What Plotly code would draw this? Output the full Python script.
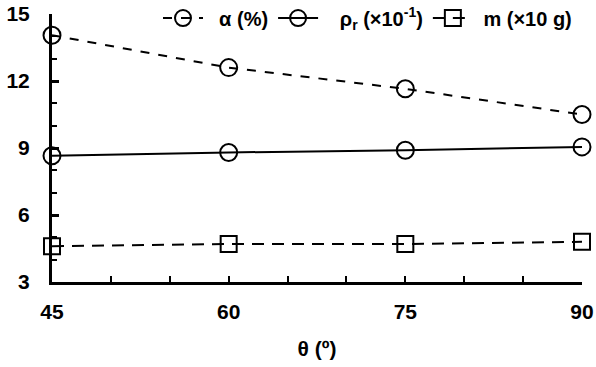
import plotly.graph_objects as go

theta = [45, 60, 75, 90]
alpha = [14.05, 12.6, 11.65, 10.5]
rho = [8.65, 8.8, 8.9, 9.05]
mass = [4.6, 4.7, 4.7, 4.8]
x_ticks = [45, 60, 75, 90]
y_ticks = [3, 6, 9, 12, 15]
names = ["\u00a0\u00a0α (%)", "\u00a0\u00a0\u00a0ρ<sub>r</sub> (×10<sup>-1</sup>)", "\u00a0m (×10 g)"]

FONT = "Liberation Sans"

fig = go.Figure()
fig.add_trace(go.Scatter(x=theta, y=alpha, name=names[0], mode="lines+markers",
                         line=dict(color="black", width=2, dash="dash"),
                         marker=dict(symbol="circle-open", size=17, color="black", line=dict(width=2)),
                         cliponaxis=False))
fig.add_trace(go.Scatter(x=theta, y=rho, name=names[1], mode="lines+markers",
                         line=dict(color="black", width=2),
                         marker=dict(symbol="circle-open", size=17, color="black", line=dict(width=2)),
                         cliponaxis=False))
fig.add_trace(go.Scatter(x=theta, y=mass, name=names[2], mode="lines+markers",
                         line=dict(color="black", width=2, dash="12px,8px"),
                         marker=dict(symbol="square-open", size=16, color="black", line=dict(width=2)),
                         cliponaxis=False))

fig.update_layout(
    width=596, height=367,
    margin=dict(l=52, r=14, t=14, b=85, autoexpand=False),
    paper_bgcolor="white", plot_bgcolor="white",
    font=dict(family=FONT, size=20, color="black"),
    showlegend=True,
    legend=dict(orientation="h", x=0.2, y=0.985, xanchor="left", yanchor="middle",
                bgcolor="rgba(0,0,0,0)", font=dict(size=20, family=FONT, weight="bold"),
                itemwidth=40, tracegroupgap=0),
    xaxis=dict(range=[45, 90], tickvals=x_ticks, ticks="inside", ticklen=6, tickwidth=2,
               tickcolor="black", showline=True, linewidth=3, linecolor="black",
               showgrid=False, zeroline=False, automargin=False, ticklabeloverflow="allow",
               minor=dict(dtick=5, tick0=45, ticks="inside", ticklen=6, tickwidth=2, tickcolor="black"),
               tickfont=dict(size=21, family=FONT, weight="bold"), ticklabelstandoff=9,
               title=dict(text="θ (º)", font=dict(size=21, family=FONT, weight="bold"), standoff=20)),
    yaxis=dict(range=[3, 15], tickvals=y_ticks, ticks="inside", ticklen=7, tickwidth=3,
               tickcolor="black", showline=True, linewidth=3, linecolor="black",
               showgrid=False, zeroline=False, automargin=False, ticklabeloverflow="allow",
               minor=dict(dtick=1, tick0=3, ticks="inside", ticklen=5, tickwidth=2, tickcolor="black"),
               tickfont=dict(size=21, family=FONT, weight="bold"), ticklabelstandoff=15),
)

fig.write_html("out.html", config={"displayModeBar": False},
               post_script="document.body.style.margin='0';document.body.style.overflow='hidden';")
